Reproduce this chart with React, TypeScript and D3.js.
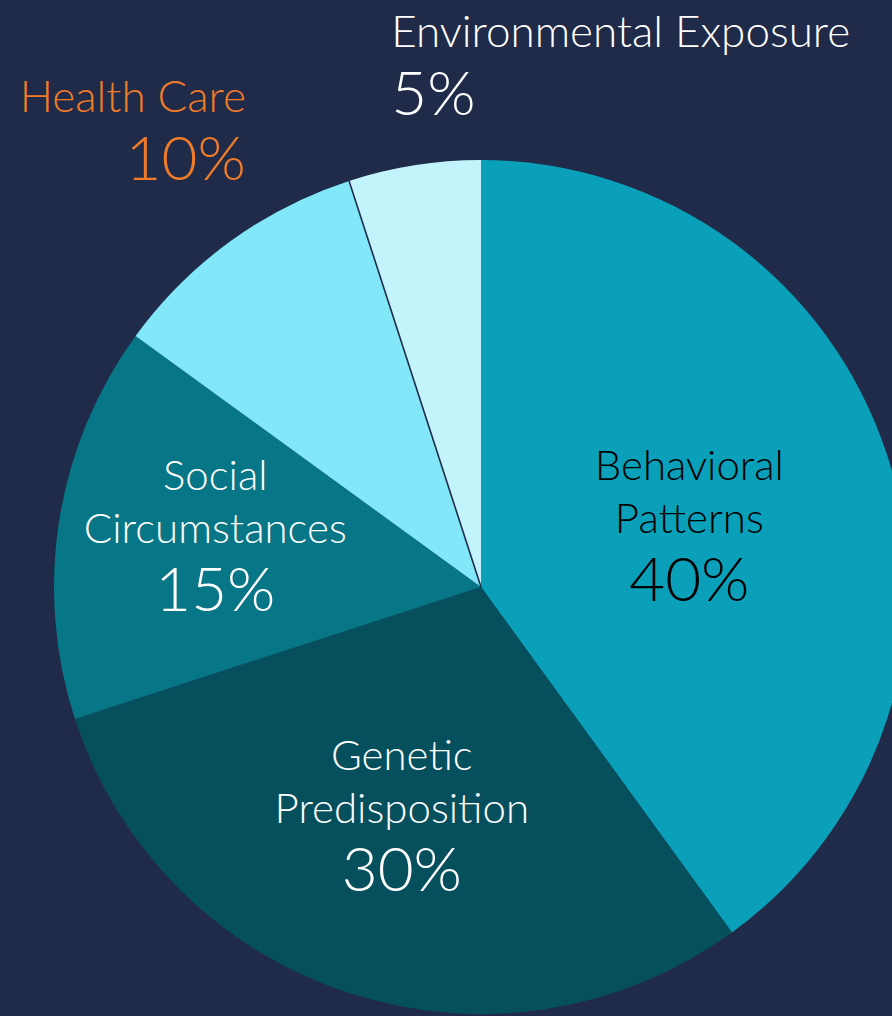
import React from 'react';
import * as d3 from 'd3';

const categories = [
  'Behavioral Patterns',
  'Genetic Predisposition',
  'Social Circumstances',
  'Health Care',
  'Environmental Exposure'
];
const values = [40, 30, 15, 10, 5];
const nameLines = [
  ['Behavioral', 'Patterns'],
  ['Genetic', 'Predisposition'],
  ['Social', 'Circumstances'],
  ['Health Care'],
  ['Environmental Exposure']
];

const width = 892;
const height = 1016;
const cx = 481;
const cy = 587;
const radius = 427;
const bg = '#1f2b48';

const sliceColors = ['#0aa0b9', '#06505e', '#077686', '#82e8f9', '#c3f4fb'];
const textColors = ['#000000', '#ffffff', '#ffffff', '#f07b28', '#ffffff'];

// label placement: centroid at k * radius, then nudged
const labelLayout = [
  { k: 0.513, dx: 0, dy: 14, anchor: 'middle', size: 42 },
  { k: 0.6, dx: 0, dy: -8, anchor: 'middle', size: 42 },
  { k: 0.63, dx: 0, dy: -2, anchor: 'middle', size: 42 },
  { k: 1.18, dx: 61, dy: -67, anchor: 'end', size: 44 },
  { k: 1.18, dx: -11, dy: -42, anchor: 'start', size: 44 }
];

export default function App() {
  const pie = d3.pie<number>().sort(null).value(d => d);
  const arcs = pie(values);
  const arc = d3.arc<d3.PieArcDatum<number>>().innerRadius(0).outerRadius(radius);

  // divider between Health Care and Environmental Exposure
  const envStart = arcs[4].startAngle;
  const lineEnd = [radius * Math.sin(envStart), -radius * Math.cos(envStart)];

  return (
    <svg
      width={width}
      height={height}
      style={{ position: 'absolute', left: 0, top: 0, background: bg, fontFamily: 'Lato, sans-serif' }}
    >
      <rect width={width} height={height} fill={bg} />
      <g transform={`translate(${cx},${cy})`}>
        {arcs.map((a, i) => (
          <path key={categories[i]} d={arc(a) || ''} fill={sliceColors[i]} />
        ))}
        <line x1={0} y1={0} x2={lineEnd[0]} y2={lineEnd[1]} stroke={bg} strokeWidth={1.6} />
        {arcs.map((a, i) => {
          const lay = labelLayout[i];
          const r = radius * lay.k;
          const [x, y] = d3.arc<d3.PieArcDatum<number>>().innerRadius(r).outerRadius(r).centroid(a);
          const names = nameLines[i];
          const offs = names.map((_, j) => (j - (names.length - 1)) * 53);
          return (
            <g key={'l' + i} transform={`translate(${x + lay.dx},${y + lay.dy})`} fill={textColors[i]} textAnchor={lay.anchor} fontWeight={300}>
              {names.map((n, j) => (
                <text key={n} y={offs[j]} fontSize={lay.size}>{n}</text>
              ))}
              <text y={68} fontSize={62}>{values[i]}%</text>
            </g>
          );
        })}
      </g>
    </svg>
  );
}
